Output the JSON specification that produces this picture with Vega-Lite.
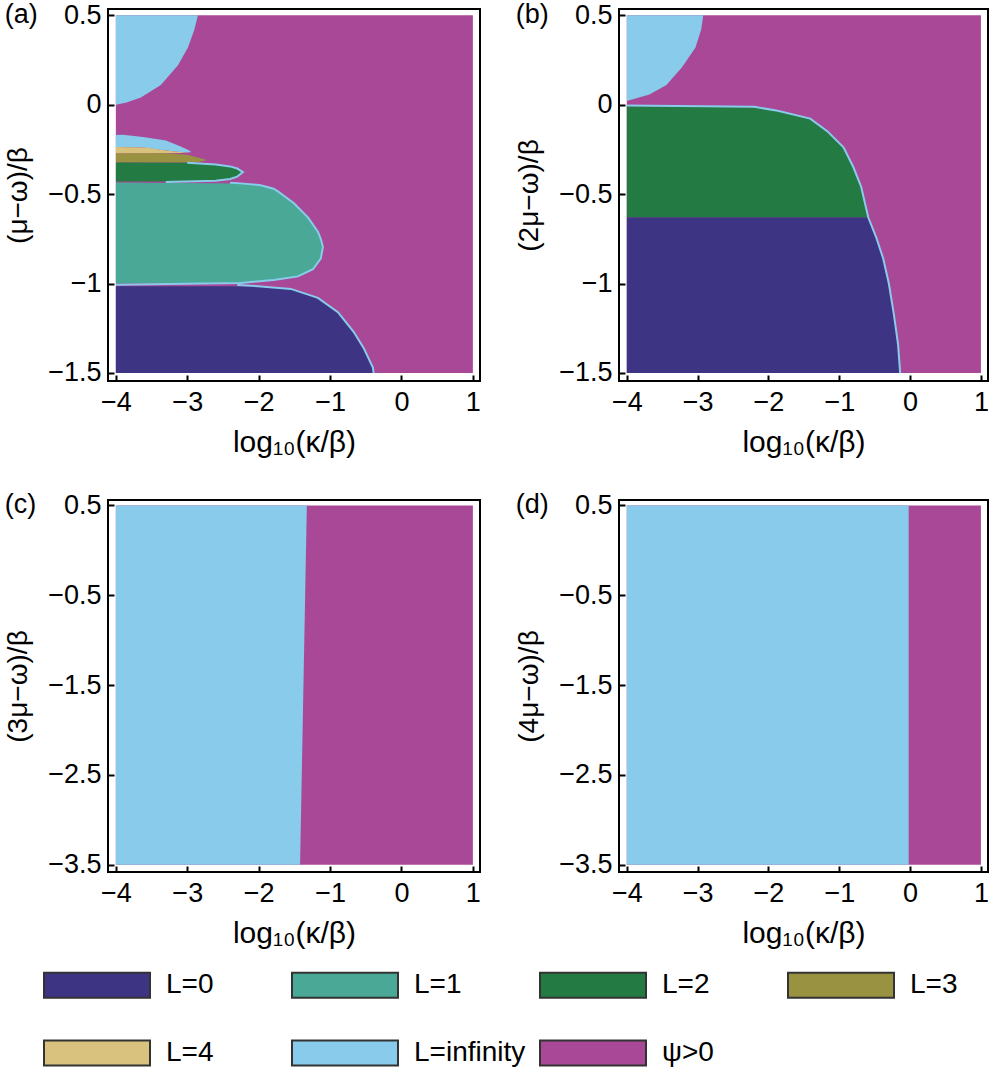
{
  "$schema": "https://vega.github.io/schema/vega-lite/v6.json",
  "background": "white",
  "padding": {"left": 3, "top": 0, "right": 0, "bottom": 0},
  "config": {
    "font": "Liberation Sans",
    "view": {"stroke": "black", "strokeWidth": 2},
    "axis": {
      "domain": false, "grid": false, "ticks": true, "tickColor": "black", "tickWidth": 2, "tickSize": -6,
      "labelFont": "Liberation Sans", "labelFontSize": 27, "labelColor": "black", "labelFlush": false, "labelOverlap": false,
      "titleFont": "Liberation Sans", "titleFontSize": 30, "titleFontWeight": "normal", "titleColor": "black"
    },
    "axisX": {"labelPadding": 14, "titlePadding": 12},
    "axisY": {"labelPadding": 13, "titlePadding": 15, "titleFontSize": 28},
    "title": {"font": "Liberation Sans", "fontSize": 27, "fontWeight": "normal", "color": "black", "anchor": "start", "frame": "bounds", "orient": "top", "offset": -28},
    "legend": {
      "orient": "bottom", "direction": "horizontal", "columns": 4, "gridAlign": "all",
      "symbolType": "M-4.24,-1H4.24V1H-4.24Z", "symbolSize": 625, "symbolOffset": -25, "labelOffset": 55,
      "labelFont": "Liberation Sans", "labelFontSize": 28, "labelColor": "black", "labelLimit": 400,
      "rowPadding": 34, "columnPadding": 10, "symbolStrokeColor": "#333333", "symbolStrokeWidth": 2, "symbolOpacity": 1,
      "offset": 22
    }
  },
  "datasets": {
    "bg": [
      {"panel": "a", "region": "ψ>0", "x": -4, "x2": 1, "ylo": -1.5, "yhi": 0.5},
      {"panel": "b", "region": "ψ>0", "x": -4, "x2": 1, "ylo": -1.5, "yhi": 0.5},
      {"panel": "c", "region": "ψ>0", "x": -4, "x2": 1, "ylo": -3.5, "yhi": 0.5},
      {"panel": "d", "region": "ψ>0", "x": -4, "x2": 1, "ylo": -3.5, "yhi": 0.5}
    ],
    "reg": [
      {"panel": "a", "region": "L=infinity", "piece": "a_inf1", "x": -4, "ylo": 0.0, "yhi": 0.5},
      {"panel": "a", "region": "L=infinity", "piece": "a_inf1", "x": -3.85, "ylo": 0.012, "yhi": 0.5},
      {"panel": "a", "region": "L=infinity", "piece": "a_inf1", "x": -3.65, "ylo": 0.04, "yhi": 0.5},
      {"panel": "a", "region": "L=infinity", "piece": "a_inf1", "x": -3.37, "ylo": 0.11, "yhi": 0.5},
      {"panel": "a", "region": "L=infinity", "piece": "a_inf1", "x": -3.13, "ylo": 0.22, "yhi": 0.5},
      {"panel": "a", "region": "L=infinity", "piece": "a_inf1", "x": -2.99, "ylo": 0.32, "yhi": 0.5},
      {"panel": "a", "region": "L=infinity", "piece": "a_inf1", "x": -2.9, "ylo": 0.42, "yhi": 0.5},
      {"panel": "a", "region": "L=infinity", "piece": "a_inf1", "x": -2.85, "ylo": 0.5, "yhi": 0.5},

      {"panel": "a", "region": "L=infinity", "piece": "a_inf2", "x": -4, "ylo": -0.236, "yhi": -0.17},
      {"panel": "a", "region": "L=infinity", "piece": "a_inf2", "x": -3.9, "ylo": -0.236, "yhi": -0.168},
      {"panel": "a", "region": "L=infinity", "piece": "a_inf2", "x": -3.62, "ylo": -0.24, "yhi": -0.18},
      {"panel": "a", "region": "L=infinity", "piece": "a_inf2", "x": -3.3, "ylo": -0.256, "yhi": -0.2},
      {"panel": "a", "region": "L=infinity", "piece": "a_inf2", "x": -3.1, "ylo": -0.265, "yhi": -0.232},
      {"panel": "a", "region": "L=infinity", "piece": "a_inf2", "x": -3.0, "ylo": -0.268, "yhi": -0.25},
      {"panel": "a", "region": "L=infinity", "piece": "a_inf2", "x": -2.95, "ylo": -0.266, "yhi": -0.262},

      {"panel": "a", "region": "L=4", "piece": "a_4", "x": -4, "ylo": -0.273, "yhi": -0.236},
      {"panel": "a", "region": "L=4", "piece": "a_4", "x": -3.58, "ylo": -0.273, "yhi": -0.24},
      {"panel": "a", "region": "L=4", "piece": "a_4", "x": -3.3, "ylo": -0.272, "yhi": -0.256},
      {"panel": "a", "region": "L=4", "piece": "a_4", "x": -3.1, "ylo": -0.27, "yhi": -0.265},
      {"panel": "a", "region": "L=4", "piece": "a_4", "x": -3.0, "ylo": -0.268, "yhi": -0.268},

      {"panel": "a", "region": "L=3", "piece": "a_3", "x": -4, "ylo": -0.323, "yhi": -0.273},
      {"panel": "a", "region": "L=3", "piece": "a_3", "x": -3.3, "ylo": -0.323, "yhi": -0.272},
      {"panel": "a", "region": "L=3", "piece": "a_3", "x": -3.0, "ylo": -0.323, "yhi": -0.28},
      {"panel": "a", "region": "L=3", "piece": "a_3", "x": -2.85, "ylo": -0.32, "yhi": -0.295},
      {"panel": "a", "region": "L=3", "piece": "a_3", "x": -2.74, "ylo": -0.312, "yhi": -0.308},

      {"panel": "a", "region": "L=2", "piece": "a_2", "x": -4, "ylo": -0.43, "yhi": -0.323},
      {"panel": "a", "region": "L=2", "piece": "a_2", "x": -3.0, "ylo": -0.43, "yhi": -0.325},
      {"panel": "a", "region": "L=2", "piece": "a_2", "x": -2.6, "ylo": -0.425, "yhi": -0.335},
      {"panel": "a", "region": "L=2", "piece": "a_2", "x": -2.4, "ylo": -0.415, "yhi": -0.345},
      {"panel": "a", "region": "L=2", "piece": "a_2", "x": -2.3, "ylo": -0.402, "yhi": -0.357},
      {"panel": "a", "region": "L=2", "piece": "a_2", "x": -2.22, "ylo": -0.378, "yhi": -0.376},

      {"panel": "a", "region": "L=1", "piece": "a_1", "x": -4, "ylo": -1.0, "yhi": -0.435},
      {"panel": "a", "region": "L=1", "piece": "a_1", "x": -2.25, "ylo": -0.995, "yhi": -0.44},
      {"panel": "a", "region": "L=1", "piece": "a_1", "x": -1.97, "ylo": -0.99, "yhi": -0.45},
      {"panel": "a", "region": "L=1", "piece": "a_1", "x": -1.79, "ylo": -0.98, "yhi": -0.47},
      {"panel": "a", "region": "L=1", "piece": "a_1", "x": -1.73, "ylo": -0.976, "yhi": -0.485},
      {"panel": "a", "region": "L=1", "piece": "a_1", "x": -1.51, "ylo": -0.965, "yhi": -0.55},
      {"panel": "a", "region": "L=1", "piece": "a_1", "x": -1.45, "ylo": -0.96, "yhi": -0.57},
      {"panel": "a", "region": "L=1", "piece": "a_1", "x": -1.31, "ylo": -0.94, "yhi": -0.63},
      {"panel": "a", "region": "L=1", "piece": "a_1", "x": -1.24, "ylo": -0.92, "yhi": -0.67},
      {"panel": "a", "region": "L=1", "piece": "a_1", "x": -1.17, "ylo": -0.89, "yhi": -0.71},
      {"panel": "a", "region": "L=1", "piece": "a_1", "x": -1.13, "ylo": -0.86, "yhi": -0.75},
      {"panel": "a", "region": "L=1", "piece": "a_1", "x": -1.1, "ylo": -0.8, "yhi": -0.79},

      {"panel": "a", "region": "L=0", "piece": "a_0", "x": -4, "ylo": -1.5, "yhi": -1.015},
      {"panel": "a", "region": "L=0", "piece": "a_0", "x": -2.01, "ylo": -1.5, "yhi": -1.015},
      {"panel": "a", "region": "L=0", "piece": "a_0", "x": -1.55, "ylo": -1.5, "yhi": -1.03},
      {"panel": "a", "region": "L=0", "piece": "a_0", "x": -1.17, "ylo": -1.5, "yhi": -1.08},
      {"panel": "a", "region": "L=0", "piece": "a_0", "x": -0.89, "ylo": -1.5, "yhi": -1.16},
      {"panel": "a", "region": "L=0", "piece": "a_0", "x": -0.67, "ylo": -1.5, "yhi": -1.27},
      {"panel": "a", "region": "L=0", "piece": "a_0", "x": -0.53, "ylo": -1.5, "yhi": -1.36},
      {"panel": "a", "region": "L=0", "piece": "a_0", "x": -0.4, "ylo": -1.5, "yhi": -1.47},
      {"panel": "a", "region": "L=0", "piece": "a_0", "x": -0.39, "ylo": -1.5, "yhi": -1.5},

      {"panel": "b", "region": "L=infinity", "piece": "b_inf", "x": -4, "ylo": 0.02, "yhi": 0.5},
      {"panel": "b", "region": "L=infinity", "piece": "b_inf", "x": -3.68, "ylo": 0.057, "yhi": 0.5},
      {"panel": "b", "region": "L=infinity", "piece": "b_inf", "x": -3.44, "ylo": 0.11, "yhi": 0.5},
      {"panel": "b", "region": "L=infinity", "piece": "b_inf", "x": -3.22, "ylo": 0.21, "yhi": 0.5},
      {"panel": "b", "region": "L=infinity", "piece": "b_inf", "x": -3.03, "ylo": 0.32, "yhi": 0.5},
      {"panel": "b", "region": "L=infinity", "piece": "b_inf", "x": -2.95, "ylo": 0.42, "yhi": 0.5},
      {"panel": "b", "region": "L=infinity", "piece": "b_inf", "x": -2.92, "ylo": 0.5, "yhi": 0.5},

      {"panel": "b", "region": "L=2", "piece": "b_2", "x": -4, "ylo": -0.631, "yhi": -0.008},
      {"panel": "b", "region": "L=2", "piece": "b_2", "x": -2.2, "ylo": -0.631, "yhi": -0.015},
      {"panel": "b", "region": "L=2", "piece": "b_2", "x": -1.87, "ylo": -0.631, "yhi": -0.036},
      {"panel": "b", "region": "L=2", "piece": "b_2", "x": -1.41, "ylo": -0.631, "yhi": -0.08},
      {"panel": "b", "region": "L=2", "piece": "b_2", "x": -1.17, "ylo": -0.631, "yhi": -0.15},
      {"panel": "b", "region": "L=2", "piece": "b_2", "x": -0.94, "ylo": -0.631, "yhi": -0.24},
      {"panel": "b", "region": "L=2", "piece": "b_2", "x": -0.8, "ylo": -0.631, "yhi": -0.35},
      {"panel": "b", "region": "L=2", "piece": "b_2", "x": -0.69, "ylo": -0.631, "yhi": -0.46},
      {"panel": "b", "region": "L=2", "piece": "b_2", "x": -0.62, "ylo": -0.631, "yhi": -0.58},
      {"panel": "b", "region": "L=2", "piece": "b_2", "x": -0.59, "ylo": -0.631, "yhi": -0.631},

      {"panel": "b", "region": "L=0", "piece": "b_0", "x": -4, "ylo": -1.5, "yhi": -0.631},
      {"panel": "b", "region": "L=0", "piece": "b_0", "x": -0.59, "ylo": -1.5, "yhi": -0.631},
      {"panel": "b", "region": "L=0", "piece": "b_0", "x": -0.48, "ylo": -1.5, "yhi": -0.74},
      {"panel": "b", "region": "L=0", "piece": "b_0", "x": -0.38, "ylo": -1.5, "yhi": -0.86},
      {"panel": "b", "region": "L=0", "piece": "b_0", "x": -0.3, "ylo": -1.5, "yhi": -1.0},
      {"panel": "b", "region": "L=0", "piece": "b_0", "x": -0.23, "ylo": -1.5, "yhi": -1.17},
      {"panel": "b", "region": "L=0", "piece": "b_0", "x": -0.17, "ylo": -1.5, "yhi": -1.34},
      {"panel": "b", "region": "L=0", "piece": "b_0", "x": -0.14, "ylo": -1.5, "yhi": -1.5},

      {"panel": "c", "region": "L=infinity", "piece": "c_inf", "x": -4, "ylo": -3.5, "yhi": 0.5},
      {"panel": "c", "region": "L=infinity", "piece": "c_inf", "x": -1.42, "ylo": -3.5, "yhi": 0.5},
      {"panel": "c", "region": "L=infinity", "piece": "c_inf", "x": -1.325, "ylo": 0.5, "yhi": 0.5},

      {"panel": "d", "region": "L=infinity", "piece": "d_inf", "x": -4, "ylo": -3.5, "yhi": 0.5},
      {"panel": "d", "region": "L=infinity", "piece": "d_inf", "x": -0.02, "ylo": -3.5, "yhi": 0.5}
    ],
    "edge": [
      {"panel": "a", "piece": "a_e1", "i": 1, "x": -2.4, "y": -0.437},
      {"panel": "a", "piece": "a_e1", "i": 2, "x": -2.25, "y": -0.44},
      {"panel": "a", "piece": "a_e1", "i": 3, "x": -1.97, "y": -0.45},
      {"panel": "a", "piece": "a_e1", "i": 4, "x": -1.79, "y": -0.47},
      {"panel": "a", "piece": "a_e1", "i": 5, "x": -1.73, "y": -0.485},
      {"panel": "a", "piece": "a_e1", "i": 6, "x": -1.51, "y": -0.55},
      {"panel": "a", "piece": "a_e1", "i": 7, "x": -1.31, "y": -0.63},
      {"panel": "a", "piece": "a_e1", "i": 8, "x": -1.17, "y": -0.71},
      {"panel": "a", "piece": "a_e1", "i": 9, "x": -1.13, "y": -0.75},
      {"panel": "a", "piece": "a_e1", "i": 10, "x": -1.1, "y": -0.795},
      {"panel": "a", "piece": "a_e1", "i": 11, "x": -1.13, "y": -0.86},
      {"panel": "a", "piece": "a_e1", "i": 12, "x": -1.24, "y": -0.92},
      {"panel": "a", "piece": "a_e1", "i": 13, "x": -1.45, "y": -0.96},
      {"panel": "a", "piece": "a_e1", "i": 14, "x": -1.79, "y": -0.98},
      {"panel": "a", "piece": "a_e1", "i": 15, "x": -2.25, "y": -0.997},
      {"panel": "a", "piece": "a_e1", "i": 16, "x": -4, "y": -1.007},

      {"panel": "a", "piece": "a_e0", "i": 1, "x": -2.3, "y": -1.008},
      {"panel": "a", "piece": "a_e0", "i": 2, "x": -2.01, "y": -1.015},
      {"panel": "a", "piece": "a_e0", "i": 3, "x": -1.55, "y": -1.03},
      {"panel": "a", "piece": "a_e0", "i": 4, "x": -1.17, "y": -1.08},
      {"panel": "a", "piece": "a_e0", "i": 5, "x": -0.89, "y": -1.16},
      {"panel": "a", "piece": "a_e0", "i": 6, "x": -0.67, "y": -1.27},
      {"panel": "a", "piece": "a_e0", "i": 7, "x": -0.53, "y": -1.36},
      {"panel": "a", "piece": "a_e0", "i": 8, "x": -0.4, "y": -1.47},
      {"panel": "a", "piece": "a_e0", "i": 9, "x": -0.39, "y": -1.5},

      {"panel": "a", "piece": "a_e2", "i": 1, "x": -3.0, "y": -0.325},
      {"panel": "a", "piece": "a_e2", "i": 2, "x": -2.6, "y": -0.335},
      {"panel": "a", "piece": "a_e2", "i": 3, "x": -2.4, "y": -0.345},
      {"panel": "a", "piece": "a_e2", "i": 4, "x": -2.3, "y": -0.357},
      {"panel": "a", "piece": "a_e2", "i": 5, "x": -2.22, "y": -0.377},
      {"panel": "a", "piece": "a_e2", "i": 6, "x": -2.3, "y": -0.402},
      {"panel": "a", "piece": "a_e2", "i": 7, "x": -2.4, "y": -0.415},
      {"panel": "a", "piece": "a_e2", "i": 8, "x": -2.6, "y": -0.425},
      {"panel": "a", "piece": "a_e2", "i": 9, "x": -3.3, "y": -0.432},

      {"panel": "b", "piece": "b_e", "i": 1, "x": -4, "y": -0.005},
      {"panel": "b", "piece": "b_e", "i": 2, "x": -2.2, "y": -0.012},
      {"panel": "b", "piece": "b_e", "i": 3, "x": -1.87, "y": -0.034},
      {"panel": "b", "piece": "b_e", "i": 4, "x": -1.41, "y": -0.078},
      {"panel": "b", "piece": "b_e", "i": 5, "x": -1.17, "y": -0.148},
      {"panel": "b", "piece": "b_e", "i": 6, "x": -0.94, "y": -0.238},
      {"panel": "b", "piece": "b_e", "i": 7, "x": -0.8, "y": -0.35},
      {"panel": "b", "piece": "b_e", "i": 8, "x": -0.69, "y": -0.46},
      {"panel": "b", "piece": "b_e", "i": 9, "x": -0.62, "y": -0.58},
      {"panel": "b", "piece": "b_e", "i": 10, "x": -0.59, "y": -0.631},
      {"panel": "b", "piece": "b_e", "i": 11, "x": -0.48, "y": -0.74},
      {"panel": "b", "piece": "b_e", "i": 12, "x": -0.38, "y": -0.86},
      {"panel": "b", "piece": "b_e", "i": 13, "x": -0.3, "y": -1.0},
      {"panel": "b", "piece": "b_e", "i": 14, "x": -0.23, "y": -1.17},
      {"panel": "b", "piece": "b_e", "i": 15, "x": -0.17, "y": -1.34},
      {"panel": "b", "piece": "b_e", "i": 16, "x": -0.14, "y": -1.5}
    ]
  },
  "columns": 2,
  "bounds": "flush",
  "spacing": {"column": 139, "row": 119},
  "concat": [
    {
      "width": 372, "height": 372,
      "title": {"text": "(a)"},
      "encoding": {
        "x": {"field": "x", "type": "quantitative", "title": "log₁₀(κ/β)", "scale": {"domain": [-4.11, 1.1], "nice": false, "zero": false}, "axis": {"values": [-4, -3, -2, -1, 0, 1], "format": ".1~f"}},
        "y": {"field": "ylo", "type": "quantitative", "title": "(μ−ω)/β", "scale": {"domain": [-1.545, 0.535], "nice": false, "zero": false}, "axis": {"values": [-1.5, -1, -0.5, 0, 0.5], "format": ".1~f"}}
      },
      "layer": [
        {"data": {"name": "bg"}, "transform": [{"filter": "datum.panel == 'a'"}], "mark": {"type": "rect"},
         "encoding": {"x2": {"field": "x2"}, "y2": {"field": "yhi"},
           "fill": {"field": "region", "type": "nominal", "title": null, "scale": {"domain": ["L=0", "L=1", "L=2", "L=3", "L=4", "L=infinity", "ψ>0"], "range": ["#3d3584", "#4aa996", "#237a42", "#999240", "#d8c27e", "#89cbeb", "#a84896"]}}}},
        {"data": {"name": "reg"}, "transform": [{"filter": "datum.panel == 'a'"}], "mark": {"type": "area", "interpolate": "linear"},
         "encoding": {"y2": {"field": "yhi"}, "detail": {"field": "piece"},
           "fill": {"field": "region", "type": "nominal", "title": null}}},
        {"data": {"name": "edge"}, "transform": [{"filter": "datum.panel == 'a'"}], "mark": {"type": "line", "color": "#89cbeb", "strokeWidth": 2},
         "encoding": {"y": {"field": "y", "type": "quantitative", "title": "(μ−ω)/β"}, "detail": {"field": "piece"}, "order": {"field": "i"}}}
      ]
    },
    {
      "width": 369, "height": 372,
      "title": {"text": "(b)"},
      "encoding": {
        "x": {"field": "x", "type": "quantitative", "title": "log₁₀(κ/β)", "scale": {"domain": [-4.11, 1.1], "nice": false, "zero": false}, "axis": {"values": [-4, -3, -2, -1, 0, 1], "format": ".1~f"}},
        "y": {"field": "ylo", "type": "quantitative", "title": "(2μ−ω)/β", "scale": {"domain": [-1.545, 0.535], "nice": false, "zero": false}, "axis": {"values": [-1.5, -1, -0.5, 0, 0.5], "format": ".1~f"}}
      },
      "layer": [
        {"data": {"name": "bg"}, "transform": [{"filter": "datum.panel == 'b'"}], "mark": {"type": "rect"},
         "encoding": {"x2": {"field": "x2"}, "y2": {"field": "yhi"},
           "fill": {"field": "region", "type": "nominal", "title": null}}},
        {"data": {"name": "reg"}, "transform": [{"filter": "datum.panel == 'b'"}], "mark": {"type": "area", "interpolate": "linear"},
         "encoding": {"y2": {"field": "yhi"}, "detail": {"field": "piece"},
           "fill": {"field": "region", "type": "nominal", "title": null}}},
        {"data": {"name": "edge"}, "transform": [{"filter": "datum.panel == 'b'"}], "mark": {"type": "line", "color": "#89cbeb", "strokeWidth": 2},
         "encoding": {"y": {"field": "y", "type": "quantitative", "title": "(2μ−ω)/β"}, "detail": {"field": "piece"}, "order": {"field": "i"}}}
      ]
    },
    {
      "width": 372, "height": 372,
      "title": {"text": "(c)"},
      "encoding": {
        "x": {"field": "x", "type": "quantitative", "title": "log₁₀(κ/β)", "scale": {"domain": [-4.11, 1.1], "nice": false, "zero": false}, "axis": {"values": [-4, -3, -2, -1, 0, 1], "format": ".1~f"}},
        "y": {"field": "ylo", "type": "quantitative", "title": "(3μ−ω)/β", "scale": {"domain": [-3.58, 0.56], "nice": false, "zero": false}, "axis": {"values": [-3.5, -2.5, -1.5, -0.5, 0.5], "format": ".1~f"}}
      },
      "layer": [
        {"data": {"name": "bg"}, "transform": [{"filter": "datum.panel == 'c'"}], "mark": {"type": "rect"},
         "encoding": {"x2": {"field": "x2"}, "y2": {"field": "yhi"},
           "fill": {"field": "region", "type": "nominal", "title": null}}},
        {"data": {"name": "reg"}, "transform": [{"filter": "datum.panel == 'c'"}], "mark": {"type": "area", "interpolate": "linear"},
         "encoding": {"y2": {"field": "yhi"}, "detail": {"field": "piece"},
           "fill": {"field": "region", "type": "nominal", "title": null}}}
      ]
    },
    {
      "width": 369, "height": 372,
      "title": {"text": "(d)"},
      "encoding": {
        "x": {"field": "x", "type": "quantitative", "title": "log₁₀(κ/β)", "scale": {"domain": [-4.11, 1.1], "nice": false, "zero": false}, "axis": {"values": [-4, -3, -2, -1, 0, 1], "format": ".1~f"}},
        "y": {"field": "ylo", "type": "quantitative", "title": "(4μ−ω)/β", "scale": {"domain": [-3.58, 0.56], "nice": false, "zero": false}, "axis": {"values": [-3.5, -2.5, -1.5, -0.5, 0.5], "format": ".1~f"}}
      },
      "layer": [
        {"data": {"name": "bg"}, "transform": [{"filter": "datum.panel == 'd'"}], "mark": {"type": "rect"},
         "encoding": {"x2": {"field": "x2"}, "y2": {"field": "yhi"},
           "fill": {"field": "region", "type": "nominal", "title": null}}},
        {"data": {"name": "reg"}, "transform": [{"filter": "datum.panel == 'd'"}], "mark": {"type": "area", "interpolate": "linear"},
         "encoding": {"y2": {"field": "yhi"}, "detail": {"field": "piece"},
           "fill": {"field": "region", "type": "nominal", "title": null}}}
      ]
    }
  ]
}
